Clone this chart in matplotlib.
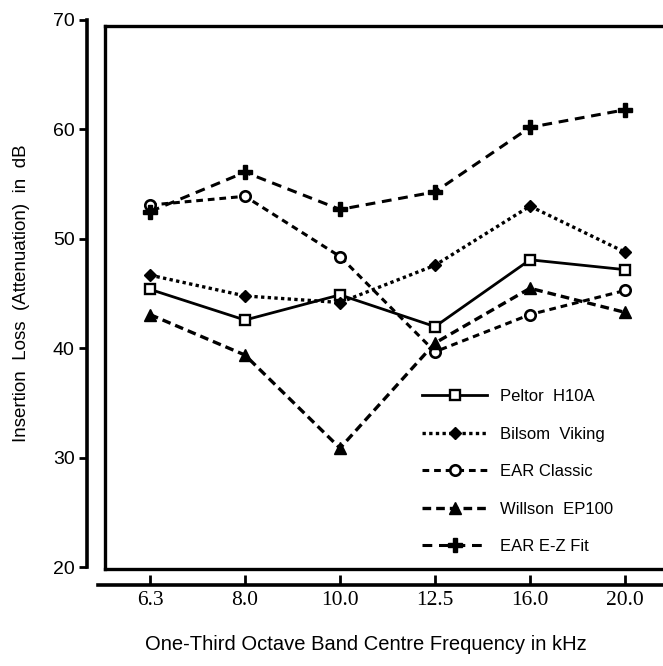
import numpy as np
import matplotlib.pyplot as plt
from matplotlib.lines import Line2D

# one-third octave band centre frequencies (kHz)
freqs = ['6.3', '8.0', '10.0', '12.5', '16.0', '20.0']

peltor = [45.4, 42.6, 44.9, 42.0, 48.1, 47.2]
bilsom = [46.7, 44.8, 44.2, 47.6, 53.0, 48.8]
ear_classic = [53.1, 53.9, 48.4, 39.7, 43.1, 45.3]
willson = [43.1, 39.4, 30.9, 40.5, 45.5, 43.3]
ear_ez = [52.5, 56.1, 52.7, 54.3, 60.2, 61.8]

labels = ['Peltor  H10A', 'Bilsom  Viking', 'EAR Classic', 'Willson  EP100', 'EAR E-Z Fit']

W, H = 663, 666
fig = plt.figure(figsize=(W / 100, H / 100), dpi=100)


def rect(x0, y0, x1, y1):
    # pixel box -> figure fraction
    return [x0 / W, 1 - y1 / H, (x1 - x0) / W, (y1 - y0) / H]


# pixel mapping of the data: index 0 at x=150, 95 px per band
x0px, dx = 150, 95
def xl(px):
    return (px - x0px) / dx

def yl(py):
    return 70 - (py - 20) / 10.95

# main framed panel
ax = fig.add_axes(rect(105, 26, 690, 569))
ax.set_xlim(xl(105), xl(690))
ax.set_ylim(yl(569), yl(26))
ax.set_xticks([])
ax.set_yticks([])
for s in ax.spines.values():
    s.set_linewidth(2.4)

x = np.arange(len(freqs))
k = dict(color='black', markeredgecolor='black', clip_on=False)
ax.plot(x, peltor, '-', lw=2.0, marker='s', ms=7.5, mfc='white', mew=1.7, **k)
ax.plot(x, bilsom, ls=(0, (1, 1)), lw=2.4, marker='D', ms=6.5, mfc='black', **k)
ax.plot(x, ear_classic, ls=(0, (2.2, 1.6)), lw=2.2, marker='o', ms=7.5, mfc='white', mew=1.9, **k)
ax.plot(x, willson, ls=(0, (2.6, 1.5)), lw=2.4, marker='^', ms=8.5, mfc='black', **k)
ax.plot(x, ear_ez, ls=(0, (3.2, 2.2)), lw=2.2, marker='P', ms=9.5, mfc='black', **k)

# legend
handles = [
    Line2D([], [], color='black', lw=2.0, marker='s', ms=7.5, mfc='white', mew=1.7),
    Line2D([], [], color='black', ls=(0, (1, 1)), lw=2.4, marker='D', ms=6.5),
    Line2D([], [], color='black', ls=(0, (2.2, 1.6)), lw=2.2, marker='o', ms=7.5, mfc='white', mew=1.9),
    Line2D([], [], color='black', ls=(0, (2.6, 1.5)), lw=2.4, marker='^', ms=8.5),
    Line2D([], [], color='black', ls=(0, (3.2, 2.2)), lw=2.2, marker='P', ms=9.5),
]
fig.legend(handles, labels, loc='upper left', bbox_to_anchor=(422 / W, 1 - 389 / H),
           frameon=False, borderpad=0, borderaxespad=0, handlelength=3.9,
           handletextpad=0.75, labelspacing=1.35,
           prop={'family': 'Liberation Sans', 'size': 12})

# detached y axis
ay = fig.add_axes(rect(87, 20, 88, 567))
ay.set_ylim(20, 70)
ay.set_xticks([])
ay.set_yticks(np.arange(20, 71, 10))
ay.patch.set_visible(False)
for s in ['top', 'right', 'bottom']:
    ay.spines[s].set_visible(False)
ay.spines['left'].set_linewidth(2.6)
ay.tick_params(axis='y', direction='out', length=6, width=2, pad=3, labelsize=14)
for t in ay.get_yticklabels():
    t.set_family('Liberation Sans')
ay.set_ylabel('Insertion  Loss  (Attenuation)  in  dB', fontsize=13.5,
              family='Liberation Sans', labelpad=16)

# detached x axis
axx = fig.add_axes(rect(98, 584, 690, 585))
axx.set_xlim(xl(98), xl(690))
axx.set_yticks([])
axx.set_xticks(x)
axx.set_xticklabels(freqs)
axx.patch.set_visible(False)
for s in ['top', 'right', 'left']:
    axx.spines[s].set_visible(False)
axx.spines['bottom'].set_linewidth(2.6)
axx.tick_params(axis='x', direction='in', length=7, width=2, pad=4, labelsize=15.5)
for t in axx.get_xticklabels():
    t.set_family('Liberation Serif')
    t.set_va('top')
axx.set_xlabel('One-Third Octave Band Centre Frequency in kHz', fontsize=14.5,
               family='Liberation Sans')
axx.xaxis.set_label_coords((366 - 98) / 592, -50)

fig.savefig('out.png', dpi=100)
